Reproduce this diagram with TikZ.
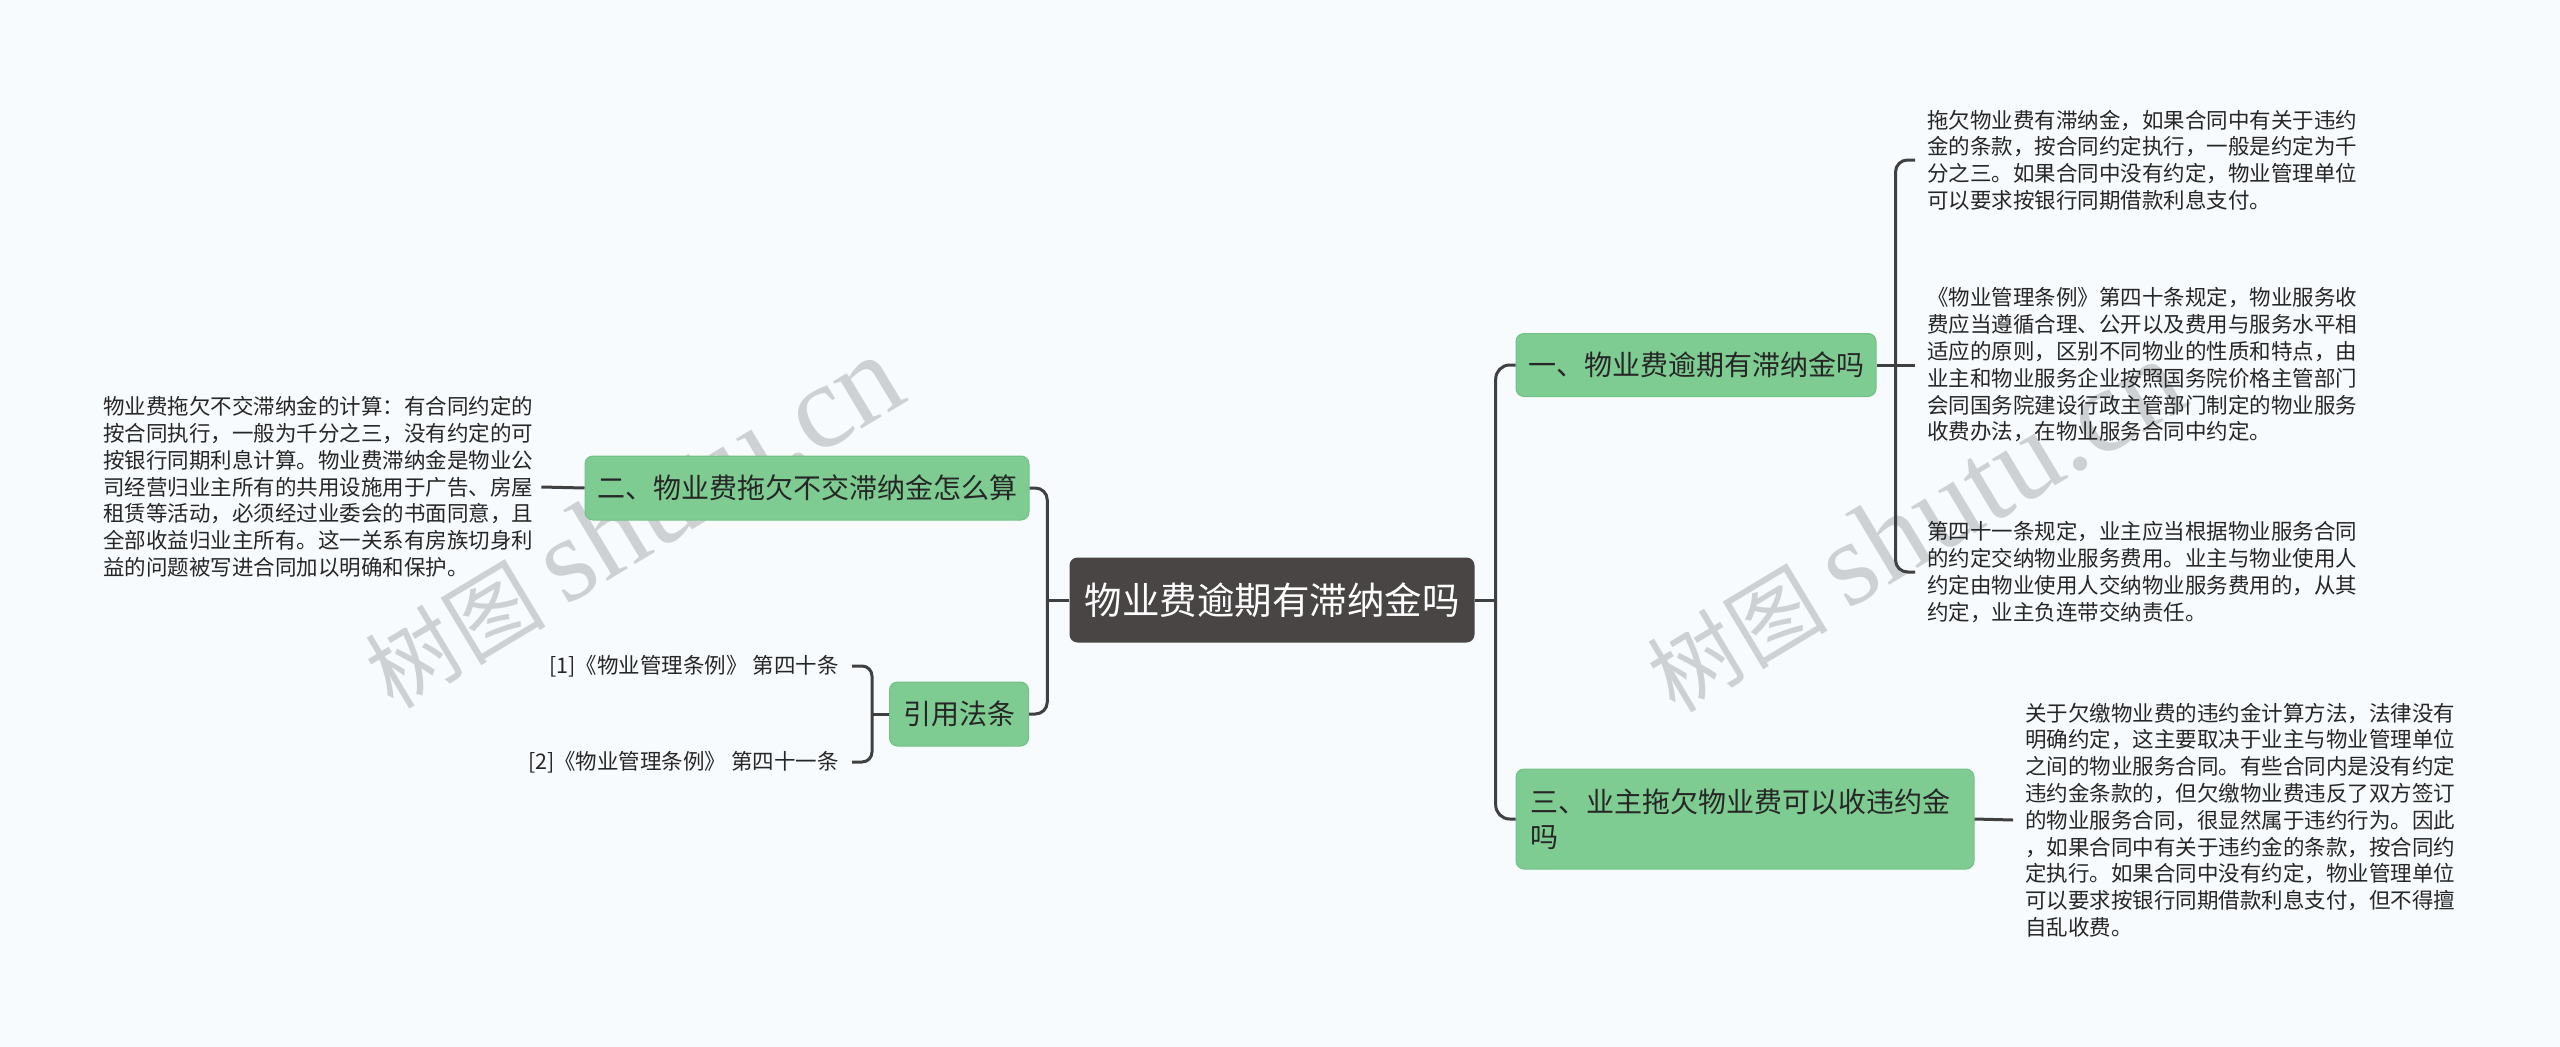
\documentclass[tikz,border=0pt]{standalone}
\usepackage{fontspec}
\setmainfont{Noto Sans CJK SC}
\newfontfamily\wmlatin{Liberation Serif}
\usetikzlibrary{calc}
\definecolor{bgc}{HTML}{F8FBFD}
\definecolor{greenc}{HTML}{7FCC92}
\definecolor{greenb}{HTML}{72C186}
\definecolor{darkc}{HTML}{4A4545}
\definecolor{linec}{HTML}{404040}
\definecolor{textc}{HTML}{262626}
\definecolor{wmc}{HTML}{A4A9AB}
\begin{document}
\begin{tikzpicture}[x=1pt,y=-1pt,
  conn/.style={draw=linec, line width=3pt},
  topic/.style={fill=greenc, draw=greenb, line width=1pt, rounded corners=8pt, text=textc,
    font=\fontsize{28}{35}\selectfont, inner xsep=12pt, inner ysep=0pt},
  rootbox/.style={fill=darkc, rounded corners=8pt, text=white,
    font=\fontsize{37.5}{45}\selectfont, inner sep=0pt, minimum width=405pt, minimum height=85pt},
  leaf/.style={text=textc, font=\fontsize{21.5}{26.8}\selectfont, align=left, inner sep=0pt},
  wm/.style={text=wmc, opacity=0.5, font=\fontsize{90}{100}\selectfont, inner sep=0pt}
]
\useasboundingbox (0,0) rectangle (2560,1047);
\fill[bgc] (0,0) rectangle (2560,1047);

% watermarks (behind everything)
\node[wm, rotate=31] (wm1) at (633,522) {树图 {\wmlatin\fontsize{120}{120}\selectfont shutu.cn}};
\node[wm, rotate=31] (wm2) at (1915,526) {树图 {\wmlatin\fontsize{120}{120}\selectfont shutu.cn}};

% nodes
\node[rootbox] (c) at (1272,600) {物业费逾期有滞纳金吗};
\node[topic, minimum width=360pt, minimum height=63pt] (n1) at (1696,365) {一、物业费逾期有滞纳金吗};
\node[topic, minimum width=442pt, minimum height=64pt] (n2) at (807,488) {二、物业费拖欠不交滞纳金怎么算};
\node[topic, minimum width=139pt, minimum height=64pt] (ref) at (959,714) {引用法条};
\node[topic, minimum width=458pt, minimum height=100pt, text width=430pt, align=left, inner xsep=14pt] (n3) at (1745,819) {三、业主拖欠物业费可以收违约金\\吗};

\node[leaf, anchor=west] (L1) at (1927,160) {拖欠物业费有滞纳金，如果合同中有关于违约\\金的条款，按合同约定执行，一般是约定为千\\分之三。如果合同中没有约定，物业管理单位\\可以要求按银行同期借款利息支付。};
\node[leaf, anchor=west] (L2) at (1927,365) {《物业管理条例》第四十条规定，物业服务收\\费应当遵循合理、公开以及费用与服务水平相\\适应的原则，区别不同物业的性质和特点，由\\业主和物业服务企业按照国务院价格主管部门\\会同国务院建设行政主管部门制定的物业服务\\收费办法，在物业服务合同中约定。};
\node[leaf, anchor=west] (L3) at (1927,572) {第四十一条规定，业主应当根据物业服务合同\\的约定交纳物业服务费用。业主与物业使用人\\约定由物业使用人交纳物业服务费用的，从其\\约定，业主负连带交纳责任。};
\node[leaf, anchor=west] (L4) at (2025,820) {关于欠缴物业费的违约金计算方法，法律没有\\明确约定，这主要取决于业主与物业管理单位\\之间的物业服务合同。有些合同内是没有约定\\违约金条款的，但欠缴物业费违反了双方签订\\的物业服务合同，很显然属于违约行为。因此\\，如果合同中有关于违约金的条款，按合同约\\定执行。如果合同中没有约定，物业管理单位\\可以要求按银行同期借款利息支付，但不得擅\\自乱收费。};
\node[leaf, anchor=west] (L5) at (103,487) {物业费拖欠不交滞纳金的计算：有合同约定的\\按合同执行，一般为千分之三，没有约定的可\\按银行同期利息计算。物业费滞纳金是物业公\\司经营归业主所有的共用设施用于广告、房屋\\租赁等活动，必须经过业委会的书面同意，且\\全部收益归业主所有。这一关系有房族切身利\\益的问题被写进合同加以明确和保护。};
\node[leaf, anchor=east] (R1) at (839,666) {[1]《物业管理条例》 第四十条};
\node[leaf, anchor=east] (R2) at (839,762) {[2]《物业管理条例》 第四十一条};

% connectors: root
\draw[conn] (c.east) -- ++(21,0) coordinate (jr);
\draw[conn, rounded corners=14pt] (jr) |- (n1.west);
\draw[conn, rounded corners=14pt] (jr) |- (n3.west);
\draw[conn] (c.west) -- ++(-22,0) coordinate (jl);
\draw[conn, rounded corners=12pt] (jl) |- (n2.east);
\draw[conn, rounded corners=12pt] (jl) |- (ref.east);

% n1 bracket
\coordinate (j1) at ($(n1.east)+(19,0)$);
\coordinate (s1) at ($(L1.west)+(-12,0)$);
\coordinate (s2) at ($(L2.west)+(-12,0)$);
\coordinate (s3) at ($(L3.west)+(-12,0)$);
\draw[conn] (n1.east) -- (s2);
\draw[conn, rounded corners=12pt] (j1) |- (s1);
\draw[conn, rounded corners=12pt] (j1) |- (s3);

% n3
\coordinate (s4) at ($(L4.west)+(-12,0)$);
\draw[conn] (n3.east) -- (s4);

% n2
\coordinate (s5) at ($(L5.east)+(8,0)$);
\draw[conn] (n2.west) -- (s5);

% ref bracket
\draw[conn] (ref.west) -- ++(-17,0) coordinate (jref);
\coordinate (r1) at ($(R1.east)+(13,0)$);
\coordinate (r2) at ($(R2.east)+(13,0)$);
\draw[conn, rounded corners=10pt] (jref) |- (r1);
\draw[conn, rounded corners=10pt] (jref) |- (r2);
\end{tikzpicture}
\end{document}
